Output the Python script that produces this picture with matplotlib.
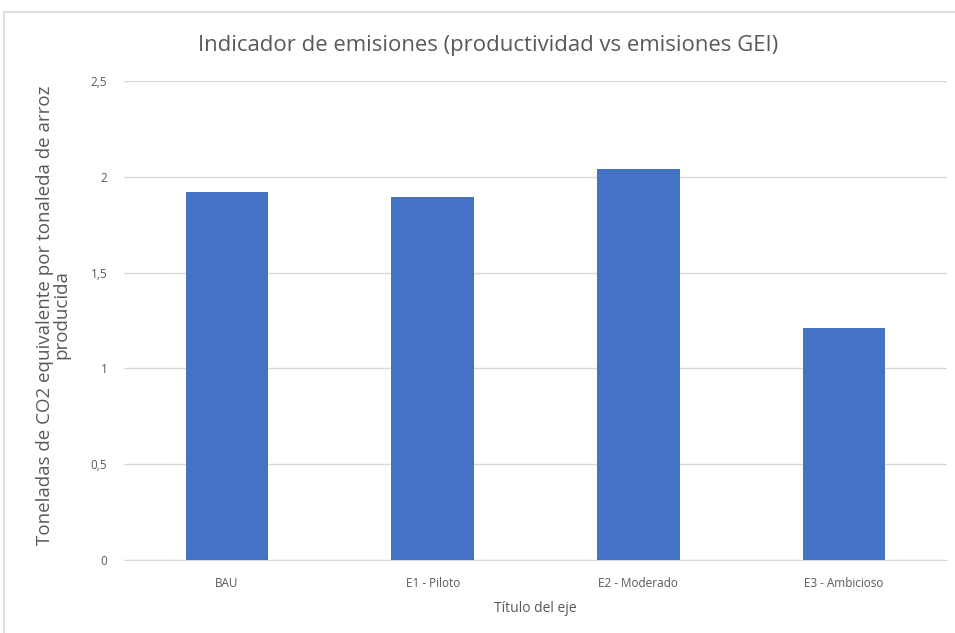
import matplotlib
matplotlib.use("Agg")
import matplotlib.pyplot as plt
from matplotlib.patches import Rectangle
from matplotlib.ticker import FuncFormatter

categories = ["BAU", "E1 - Piloto", "E2 - Moderado", "E3 - Ambicioso"]
values = [1.92, 1.895, 2.04, 1.21]
yticks = [0, 0.5, 1, 1.5, 2, 2.5]

text_color = "#595959"
bar_color = "#4472C4"

plt.rcParams["font.family"] = ["Open Sans", "DejaVu Sans"]

fig = plt.figure(figsize=(9.55, 6.33), dpi=100)
ax = fig.add_axes([124 / 955, 1 - 560 / 633, (947 - 124) / 955, (560 - 81) / 633])

# light chart-area frame
fig.patches.append(Rectangle((4 / 955, -0.01), 1.0, 1 - 12 / 633 + 0.01,
                             transform=fig.transFigure, fill=False,
                             edgecolor="#D9D9D9", linewidth=1.2))

x = range(len(categories))
ax.bar(x, values, width=0.4, color=bar_color, zorder=3)

ax.set_xlim(-0.5, len(categories) - 0.5)
ax.set_ylim(0, 2.5)
ax.set_yticks(yticks)
ax.yaxis.set_major_formatter(FuncFormatter(lambda v, p: f"{v:g}".replace(".", ",")))
ax.set_xticks(list(x))
ax.set_xticklabels(categories)

ax.grid(axis="y", color="#D9D9D9", linewidth=1, zorder=0)
for s in ["top", "right", "left"]:
    ax.spines[s].set_visible(False)
ax.spines["bottom"].set_color("#D9D9D9")
ax.tick_params(axis="both", length=0, colors=text_color, labelsize=8.5)
ax.tick_params(axis="y", pad=12)
ax.tick_params(axis="x", pad=12)

ax.set_xlabel("Título del eje", color=text_color, fontsize=10, labelpad=8)
ax.set_ylabel("Toneladas de CO2 equivalente por tonaleda de arroz\nproducida",
              color=text_color, fontsize=13.5, linespacing=0.85,
              multialignment="center")
ax.yaxis.set_label_coords((70 - 124) / 823, (560 - 315) / 479)

fig.text(488 / 955, 1 - 45 / 633, "Indicador de emisiones (productividad vs emisiones GEI)",
         ha="center", va="center", color=text_color, fontsize=15.9)

fig.savefig("out.png", dpi=100, facecolor="white")
